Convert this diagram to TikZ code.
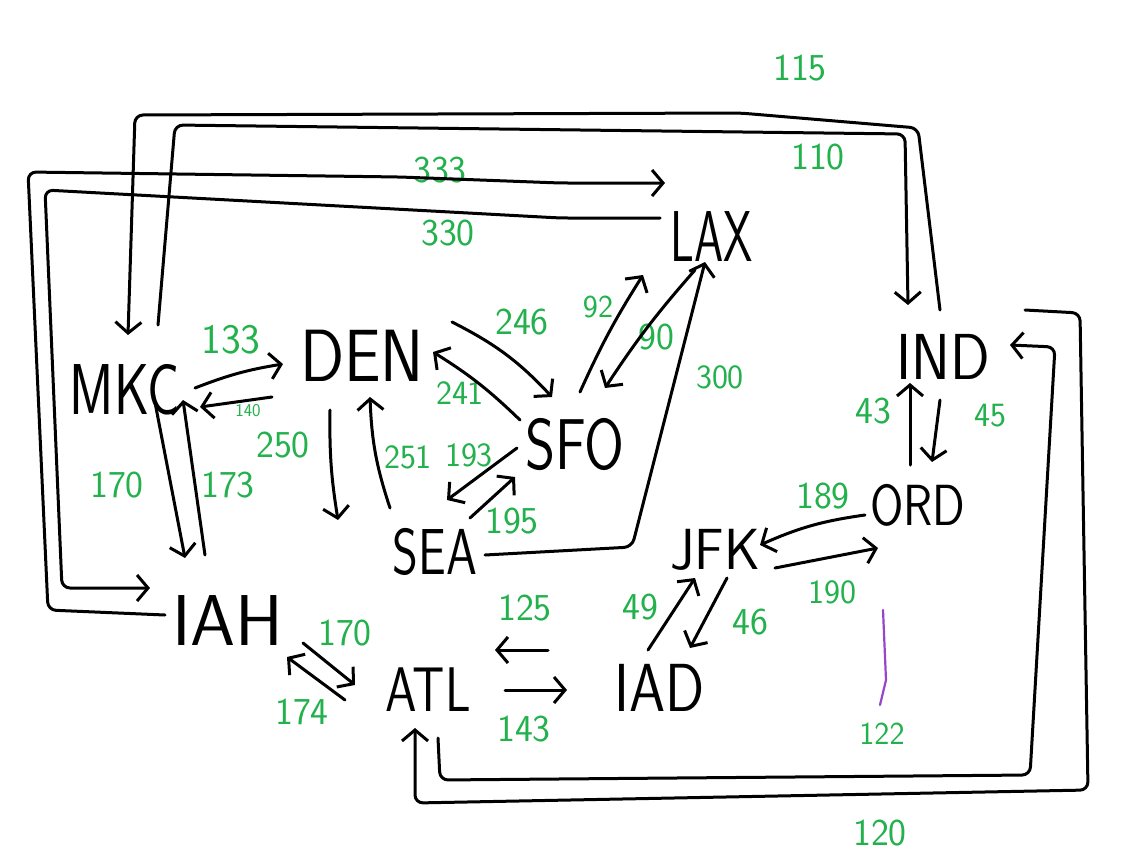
\documentclass[tikz,border=0pt]{standalone}
\usepackage{fontspec}
\usetikzlibrary{arrows.meta}
\definecolor{pgreen}{RGB}{34,177,76}
\definecolor{ppurple}{RGB}{150,70,200}
\newcommand\cty[3]{\scalebox{#2}[1]{\sffamily\fontsize{#1}{#1}\selectfont #3}}
\begin{document}
\begin{tikzpicture}[x=1pt,y=-1pt,
  city/.style={inner sep=0pt, outer sep=0pt},
  lbl/.style={text=pgreen, inner sep=0pt, font=\sffamily\fontsize{38}{38}\selectfont},
  hand/.style={line width=3pt, line cap=round, line join=round},
  arr/.style={hand, -{Straight Barb[length=11pt,width=26pt]}},
  loop/.style={arr, rounded corners=8pt}
]
\useasboundingbox (0,0) rectangle (1143,862);
\fill[white] (0,0) rectangle (1143,862);
% cities
\node[city] (MKC) at (125,390) {\cty{72}{0.75}{MKC}};
\node[city] (DEN) at (362,356) {\cty{74}{0.88}{DEN}};
\node[city] (LAX) at (712,237) {\cty{72}{0.65}{LAX}};
\node[city] (SFO) at (575,445) {\cty{72}{0.8}{SFO}};
\node[city] (IND) at (943,357) {\cty{65}{0.9}{IND}};
\node[city] (ORD) at (918,505) {\cty{58}{0.83}{ORD}};
\node[city] (JFK) at (715,550) {\cty{58}{0.95}{JFK}};
\node[city] (SEA) at (435,552) {\cty{65}{0.76}{SEA}};
\node[city] (IAH) at (228,621) {\cty{72}{1.0}{IAH}};
\node[city] (ATL) at (428,690) {\cty{63}{0.8}{ATL}};
\node[city] (IAD) at (660,688) {\cty{68}{0.85}{IAD}};
% labels
\node[lbl] (l115) at (800,68) {115};
\node[lbl] (l110) at (818,157) {110};
\node[lbl] (l333) at (440,170) {333};
\node[lbl] (l330) at (448,233) {330};
\node[lbl, font=\sffamily\fontsize{42}{42}\selectfont] (l133) at (231,340) {133};
\node[lbl, font=\sffamily\fontsize{18}{18}\selectfont] (l140) at (248,411) {140};
\node[lbl] (l246) at (522,322) {246};
\node[lbl, font=\sffamily\fontsize{32}{32}\selectfont] (l92) at (598,307) {92};
\node[lbl] (l90) at (656,337) {90};
\node[lbl, font=\sffamily\fontsize{34}{34}\selectfont] (l300) at (720,377) {300};
\node[lbl, font=\sffamily\fontsize{34}{34}\selectfont] (l241) at (460,393) {241};
\node[lbl] (l43) at (873,411) {43};
\node[lbl, font=\sffamily\fontsize{34}{34}\selectfont] (l45) at (990,416) {45};
\node[lbl] (l170a) at (117,485) {170};
\node[lbl] (l173) at (228,485) {173};
\node[lbl] (l250) at (283,445) {250};
\node[lbl, font=\sffamily\fontsize{34}{34}\selectfont] (l251) at (408,457) {251};
\node[lbl, font=\sffamily\fontsize{34}{34}\selectfont] (l193) at (469,455) {193};
\node[lbl] (l195) at (512,521) {195};
\node[lbl] (l189) at (823,496) {189};
\node[lbl, font=\sffamily\fontsize{34}{34}\selectfont] (l190) at (832,592) {190};
\node[lbl] (l125) at (525,608) {125};
\node[lbl] (l49) at (640,607) {49};
\node[lbl] (l46) at (750,622) {46};
\node[lbl] (l170b) at (345,633) {170};
\node[lbl] (l174) at (302,712) {174};
\node[lbl] (l143) at (524,729) {143};
\node[lbl, font=\sffamily\fontsize{32}{32}\selectfont] (l122) at (882,734) {122};
\node[lbl] (l120) at (880,833) {120};
% connectors
\draw[arr] ([shift={(195-125,388-390)}]MKC.center) to[bend left=6] ([shift={(283-362,364-356)}]DEN.center);
\draw[arr] ([shift={(272-362,397-356)}]DEN.center) -- ([shift={(200-125,407-390)}]MKC.center);
\draw[arr] ([shift={(153-125,392-390)}]MKC.center) -- ([shift={(185-228,558-621)}]IAH.center);
\draw[arr] ([shift={(205-228,555-621)}]IAH.center) -- ([shift={(183-125,400-390)}]MKC.center);
\draw[arr] ([shift={(330-362,410-356)}]DEN.center) to[bend right=5] ([shift={(338-435,520-552)}]SEA.center);
\draw[arr] ([shift={(390-435,508-552)}]SEA.center) to[bend left=8] ([shift={(370-362,397-356)}]DEN.center);
\draw[arr] ([shift={(517-575,448-445)}]SFO.center) -- ([shift={(447-435,500-552)}]SEA.center);
\draw[arr] ([shift={(470-435,518-552)}]SEA.center) -- ([shift={(515-575,477-445)}]SFO.center);
\draw[arr] ([shift={(452-362,322-356)}]DEN.center) to[bend left=10] ([shift={(552-575,397-445)}]SFO.center);
\draw[arr] ([shift={(520-575,420-445)}]SFO.center) to[bend right=6] ([shift={(433-362,352-356)}]DEN.center);
\draw[arr] ([shift={(580-575,392-445)}]SFO.center) to[bend left=4] ([shift={(643-712,275-237)}]LAX.center);
\draw[arr] ([shift={(695-712,270-237)}]LAX.center) to[bend right=4] ([shift={(605-575,388-445)}]SFO.center);
\draw[loop] ([shift={(485-435,555-552)}]SEA.center) -- (632,547) -- ([shift={(705-712,262-237)}]LAX.center);
\draw[loop] ([shift={(165-228,615-621)}]IAH.center) -- (48,610) -- (28,172) -- (400,177) -- (560,183) -- ([shift={(665-712,183-237)}]LAX.center);
\draw[loop] ([shift={(660-712,218-237)}]LAX.center) -- (560,218) -- (45,190) -- (62,588) -- ([shift={(150-228,588-621)}]IAH.center);
\draw[loop] ([shift={(940-943,310-357)}]IND.center) -- (918,128) -- (740,113) -- (135,115) -- ([shift={(128-125,335-390)}]MKC.center);
\draw[loop] ([shift={(158-125,325-390)}]MKC.center) -- (175,125) -- (905,134) -- ([shift={(908-943,305-357)}]IND.center);
\draw[arr] ([shift={(910-918,465-505)}]ORD.center) -- ([shift={(910-943,383-357)}]IND.center);
\draw[arr] ([shift={(940-943,400-357)}]IND.center) -- ([shift={(932-918,462-505)}]ORD.center);
\draw[arr] ([shift={(865-918,515-505)}]ORD.center) to[bend right=8] ([shift={(760-715,545-550)}]JFK.center);
\draw[arr] ([shift={(775-715,568-550)}]JFK.center) -- ([shift={(878-918,548-505)}]ORD.center);
\draw[arr] ([shift={(648-660,650-688)}]IAD.center) -- ([shift={(695-715,578-550)}]JFK.center);
\draw[arr] ([shift={(727-715,578-550)}]JFK.center) -- ([shift={(690-660,648-688)}]IAD.center);
\draw[arr] ([shift={(548-660,650-688)}]IAD.center) -- ([shift={(495-428,650-690)}]ATL.center);
\draw[arr] ([shift={(505-428,690-690)}]ATL.center) -- ([shift={(567-660,690-688)}]IAD.center);
\draw[arr] ([shift={(303-228,643-621)}]IAH.center) -- ([shift={(355-428,685-690)}]ATL.center);
\draw[arr] ([shift={(345-428,700-690)}]ATL.center) -- ([shift={(287-228,657-621)}]IAH.center);
\draw[loop] ([shift={(1025-943,310-357)}]IND.center) -- (1080,313) -- (1088,790) -- (415,803) -- ([shift={(415-428,728-690)}]ATL.center);
\draw[loop] ([shift={(438-428,738-690)}]ATL.center) -- (440,780) -- (1030,775) -- (1055,347) -- ([shift={(1010-943,345-357)}]IND.center);
% stray purple stroke
\draw[hand, line width=2.2pt, ppurple] (883,610) -- (886,680) -- (880,705);
\end{tikzpicture}
\end{document}
